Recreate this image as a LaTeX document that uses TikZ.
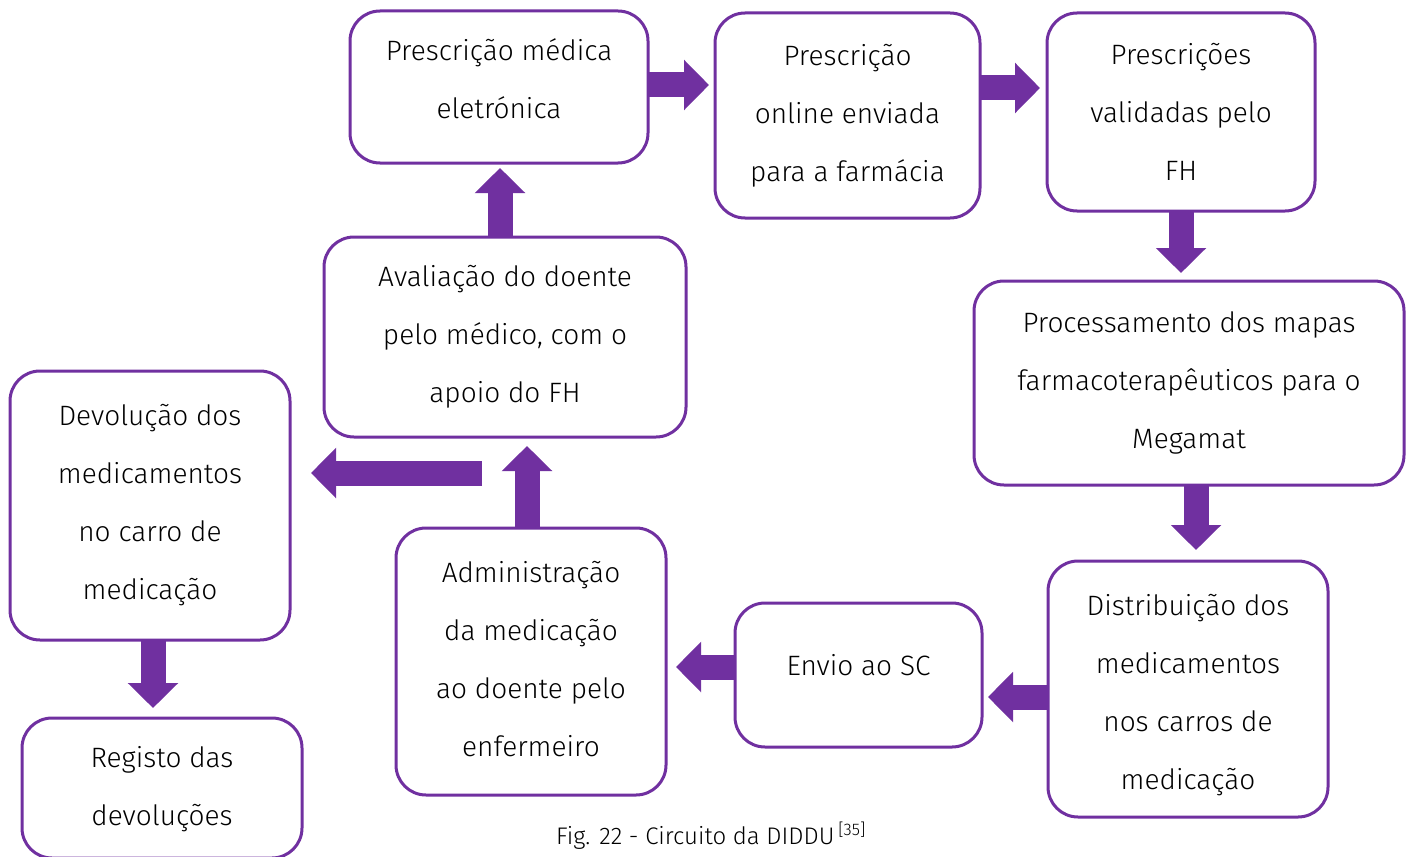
\documentclass[tikz,border=0pt]{standalone}
\usepackage{fontspec}
\setmainfont{Fira Sans Light}
\usetikzlibrary{arrows.meta}
\definecolor{vio}{HTML}{7030A0}
\tikzset{
  box/.style={draw=vio, line width=3pt, rounded corners=30pt, fill=white,
    inner sep=0pt, outer sep=0pt},
  txt/.style={align=center, inner sep=0pt, font=\fontsize{28}{58}\selectfont},
  blk/.style={draw=vio, line width=25pt,
    -{Triangle[width=49pt,length=25pt]}}
}
\begin{document}
\begin{tikzpicture}[x=1pt,y=-1pt]
\useasboundingbox (0,0) rectangle (1412,856);
\node[box, minimum width=298pt, minimum height=152pt] (n1) at (499,87) {};
\node[txt] (t1) at ([yshift=8pt]n1.center) {Prescrição médica\\eletrónica};
\node[box, minimum width=265pt, minimum height=205pt] (n2) at (847.5,115.5) {};
\node[txt] (t2) at (n2.center) {Prescrição\\online enviada\\para a farmácia};
\node[box, minimum width=268pt, minimum height=198pt] (n3) at (1181,112) {};
\node[txt] (t3) at (n3.center) {Prescrições\\validadas pelo\\FH};
\node[box, minimum width=430pt, minimum height=204pt] (n4) at (1189,383) {};
\node[txt] (t4) at (n4.center) {Processamento dos mapas\\farmacoterapêuticos para o\\Megamat};
\node[box, minimum width=280pt, minimum height=256pt] (n5) at (1188,689) {};
\node[txt] (t5) at ([yshift=-6pt]n5.center) {Distribuição dos\\medicamentos\\nos carros de\\medicação};
\node[box, minimum width=247pt, minimum height=144pt] (n6) at (858.5,675) {};
\node[txt] (t6) at ([yshift=10pt]n6.center) {Envio ao SC};
\node[box, minimum width=270pt, minimum height=267pt] (n7) at (531,661.5) {};
\node[txt] (t7) at ([yshift=2pt]n7.center) {Administração\\da medicação\\ao doente pelo\\enfermeiro};
\node[box, minimum width=362pt, minimum height=200pt] (n8) at (505,337) {};
\node[txt] (t8) at (n8.center) {Avaliação do doente\\pelo médico, com o\\apoio do FH};
\node[box, minimum width=280pt, minimum height=269pt] (n9) at (150,505.5) {};
\node[txt] (t9) at (n9.center) {Devolução dos\\medicamentos\\no carro de\\medicação};
\node[box, minimum width=280pt, minimum height=140pt] (n10) at (162,788) {};
\node[txt] (t10) at ([yshift=-1pt]n10.center) {Registo das\\devoluções};
\node[font=\fontsize{24}{28}\selectfont] (cap) at (711,836) {Fig. 22 - Circuito da DIDDU\,\textsuperscript{[35]}};
% block arrows
\draw[blk] (n1.east |- 0,85) -- (709,85);
\draw[blk] (n2.east |- 0,88) -- (1040,88);
\draw[blk] (n3.south -| 1181,0) -- (1181,273);
\draw[blk] (n4.south -| 1196,0) -- (1196,550);
\draw[blk] (n5.west |- 0,697) -- (988,697);
\draw[blk] (n6.west |- 0,667) -- (676,667);
\draw[blk] (n7.north -| 527,0) -- (527,446);
\draw[blk] (482,473) coordinate (s8) -- (311,473);
\draw[blk] (n8.north -| 500,0) -- (500,168);
\draw[blk] (n9.south -| 153,0) -- (153,708);
\end{tikzpicture}
\end{document}
